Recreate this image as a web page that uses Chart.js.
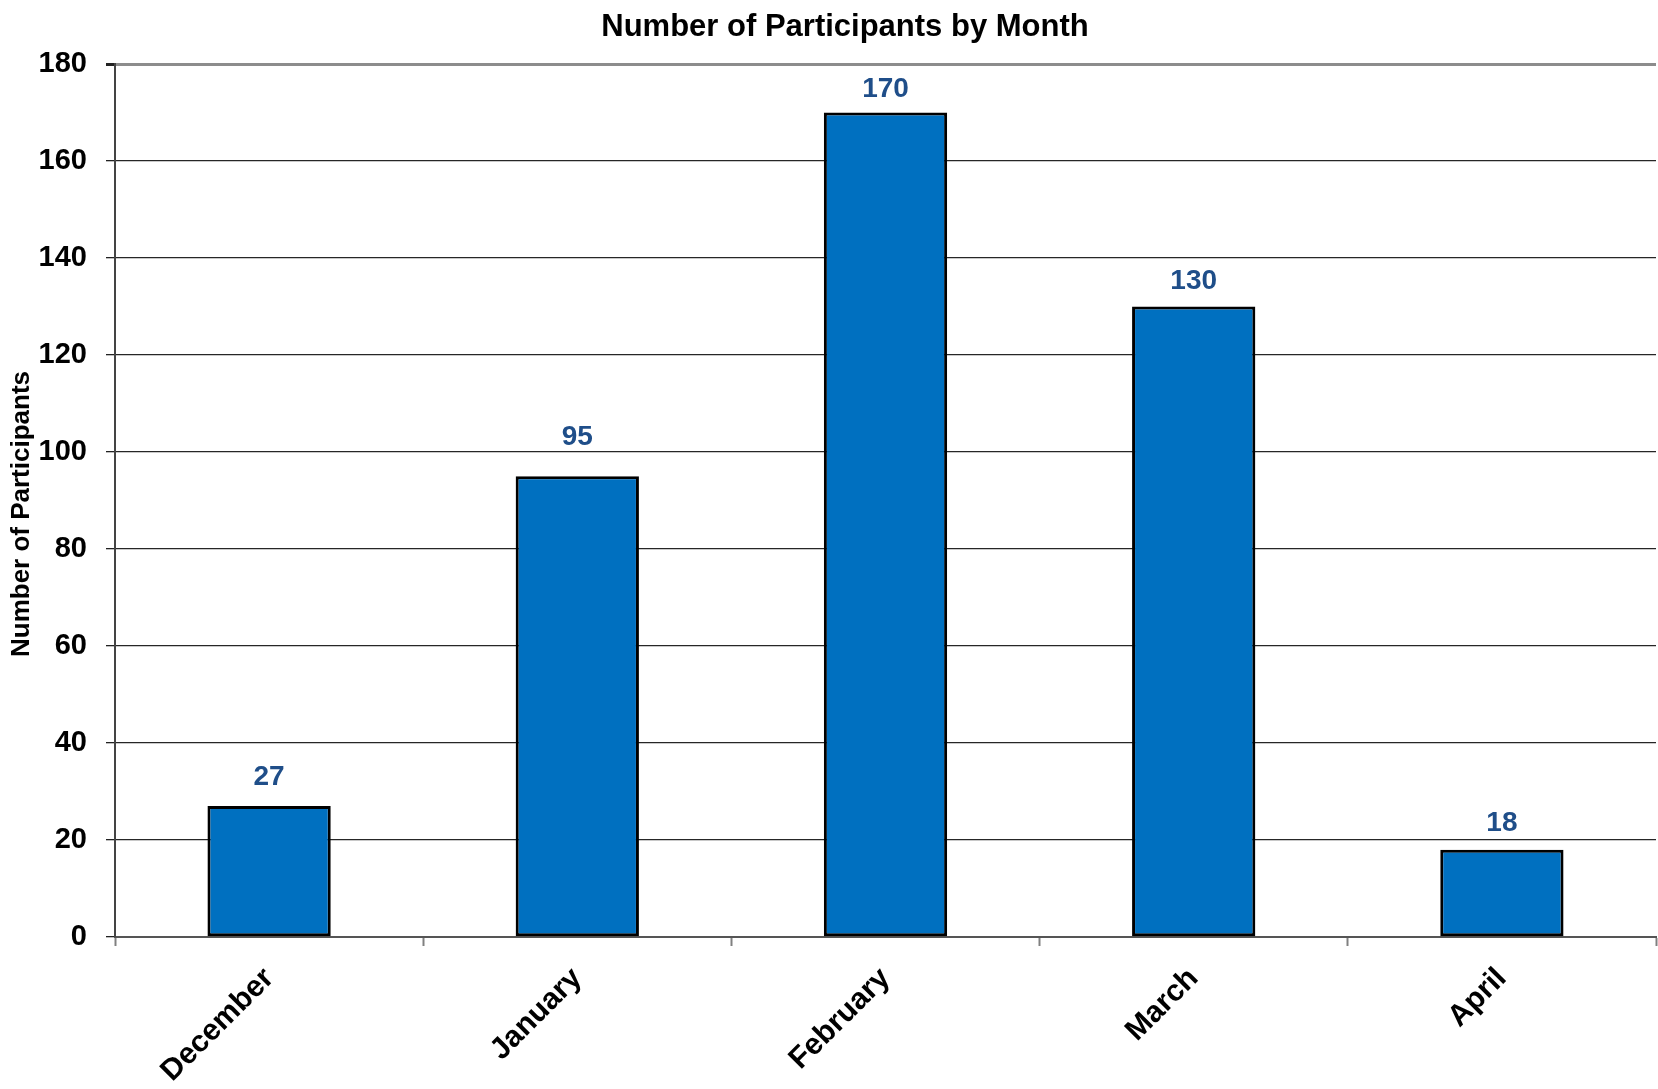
<!DOCTYPE html>
<html>
<head>
<meta charset="utf-8">
<title>Number of Participants by Month</title>
<script src="https://cdn.jsdelivr.net/npm/chart.js@4.4.1/dist/chart.umd.min.js"></script>
<style>
  html, body { margin: 0; padding: 0; background: #fff; }
  canvas { display: block; }
</style>
</head>
<body>
<canvas id="chart" width="1658" height="1089"></canvas>
<script>
// --- Data ---
const months = ['December', 'January', 'February', 'March', 'April'];
const participants = [27, 95, 170, 130, 18];
const yTicks = [0, 20, 40, 60, 80, 100, 120, 140, 160, 180];

const chartTitle = 'Number of Participants by Month';
const yTitle = 'Number of Participants';

const FONT = "'Liberation Sans', Arial, Helvetica, sans-serif";

// Titles drawn by hand so they sit where the original ones do
const titlePlugin = {
    id: 'manualTitles',
    afterDraw(chart) {
        const ctx = chart.ctx;
        ctx.save();
        ctx.fillStyle = '#000';
        ctx.textAlign = 'center';
        ctx.textBaseline = 'alphabetic';
        ctx.font = 'bold 31px ' + FONT;
        ctx.fillText(chartTitle, 845, 36);

        ctx.font = 'bold 26px ' + FONT;
        ctx.textBaseline = 'middle';
        ctx.translate(22, 514);
        ctx.rotate(-Math.PI / 2);
        ctx.fillText(yTitle, 0, 0);
        ctx.restore();
    }
};

// Value labels above the bars
const valueLabels = {
    id: 'valueLabels',
    afterDatasetsDraw(chart, args, opts) {
        const ctx = chart.ctx;
        const meta = chart.getDatasetMeta(0);
        ctx.save();
        ctx.font = 'bold 28px ' + FONT;
        ctx.fillStyle = opts.color;
        ctx.textAlign = 'center';
        ctx.textBaseline = 'alphabetic';
        meta.data.forEach((bar, i) => {
            const gap = opts.gaps[i] !== undefined ? opts.gaps[i] : 15;
            ctx.fillText(String(participants[i]), bar.x, bar.y - gap);
        });
        ctx.restore();
    }
};

new Chart(document.getElementById('chart').getContext('2d'), {
    type: 'bar',
    data: {
        labels: months,
        datasets: [{
            data: participants,
            backgroundColor: '#0070C0',
            borderColor: '#000000',
            borderWidth: 3,
            borderSkipped: false,
            barPercentage: 0.4,
            categoryPercentage: 1.0
        }]
    },
    options: {
        responsive: false,
        animation: false,
        layout: { padding: { top: 64, right: 2, left: 0, bottom: 0 } },
        plugins: {
            legend: { display: false },
            title: { display: false },
            tooltip: { enabled: false },
            valueLabels: { color: '#1F4E89', gaps: [21, 31, 16, 18, 19] }
        },
        scales: {
            x: {
                offset: true,
                grid: {
                    offset: true,
                    drawOnChartArea: true,
                    color: c => c.index === months.length ? '#8c8c8c' : 'rgba(0,0,0,0)',
                    lineWidth: c => c.index === months.length ? 3 : 1,
                    tickColor: '#808080',
                    tickLength: 9,
                    tickWidth: 2
                },
                border: { color: '#555', width: 2 },
                ticks: {
                    color: '#000',
                    font: { family: FONT, size: 30, weight: 'bold' },
                    minRotation: 45,
                    maxRotation: 45,
                    padding: 15
                },
                afterFit(scale) { scale.height = 152; }
            },
            y: {
                min: 0,
                max: 180,
                afterBuildTicks(scale) { scale.ticks = yTicks.map(v => ({ value: v })); },
                grid: {
                    color: c => c.tick && c.tick.value === 180 ? '#8c8c8c' : '#262626',
                    lineWidth: c => c.tick && c.tick.value === 180 ? 3 : 1.3,
                    tickColor: '#222',
                    tickLength: 9
                },
                border: { color: '#444', width: 2 },
                ticks: {
                    color: '#000',
                    font: { family: FONT, size: 29, weight: 'bold' },
                    padding: 19
                },
                title: { display: false },
                afterFit(scale) { scale.width = 115; }
            }
        }
    },
    plugins: [titlePlugin, valueLabels]
});
</script>
</body>
</html>
